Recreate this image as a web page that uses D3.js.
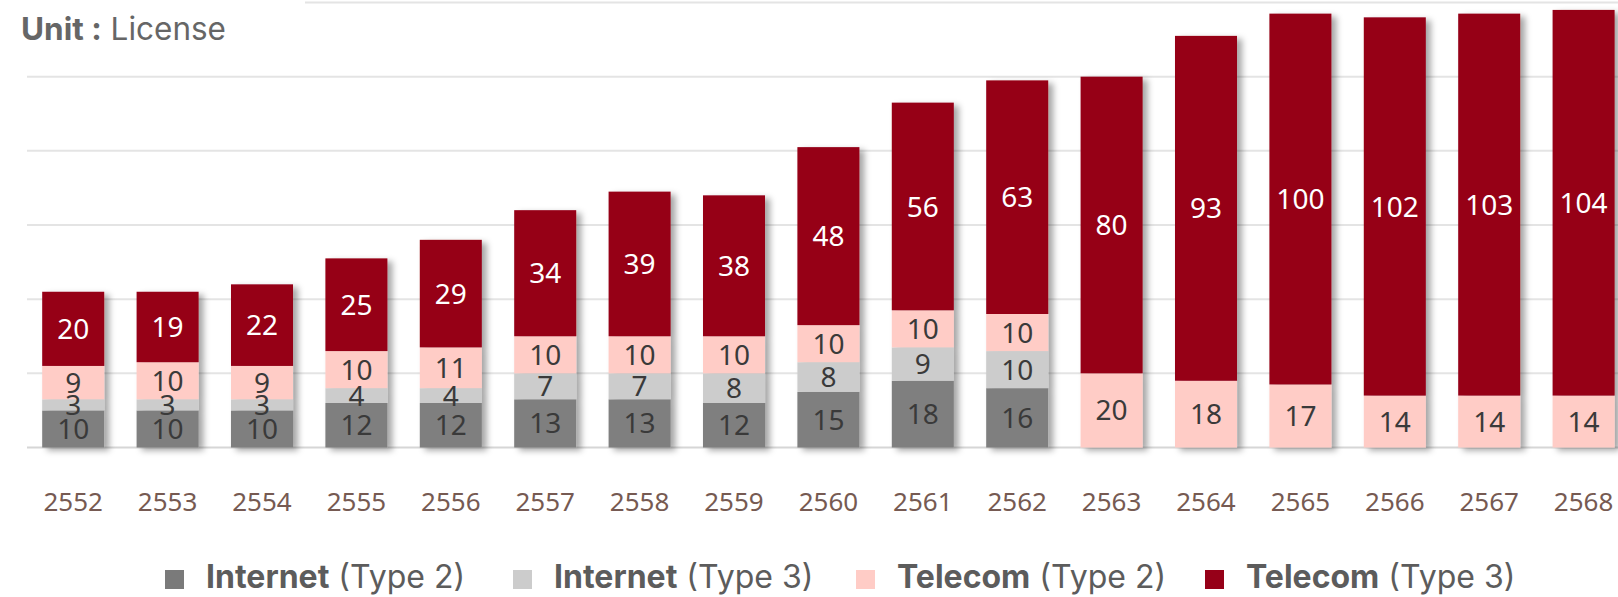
<!DOCTYPE html>
<html>
<head>
<meta charset="utf-8">
<script src="https://cdn.jsdelivr.net/npm/d3@7"></script>
<style>
  html, body { margin: 0; padding: 0; background: #fff; }
  svg { display: block; }
</style>
</head>
<body>
<div id="chart"></div>
<script>
// Chart data
let years = ['2552', '2553', '2554', '2555', '2556', '2557', '2558', '2559', '2560',
             '2561', '2562', '2563', '2564', '2565', '2566', '2567', '2568'];
let internetType2 = [10, 10, 10, 12, 12, 13, 13, 12, 15, 18, 16, 0, 0, 0, 0, 0, 0];
let internetType3 = [3, 3, 3, 4, 4, 7, 7, 8, 8, 9, 10, 0, 0, 0, 0, 0, 0];
let telecomType2 = [9, 10, 9, 10, 11, 10, 10, 10, 10, 10, 10, 20, 18, 17, 14, 14, 14];
let telecomType3 = [20, 19, 22, 25, 29, 34, 39, 38, 48, 56, 63, 80, 93, 100, 102, 103, 104];
let gridTicks = [0, 20, 40, 60, 80, 100, 120];

let seriesKeys = ['it2', 'it3', 'tc2', 'tc3'];
let seriesNames = [['Internet', '(Type 2)'], ['Internet', '(Type 3)'],
                   ['Telecom', '(Type 2)'], ['Telecom', '(Type 3)']];
let seriesColor = ['#7f7f7f', '#cccccc', '#ffccc6', '#960018'];
let labelColor = ['#3a3a3a', '#3a3a3a', '#3a3a3a', '#ffffff'];

let width = 1618;
let height = 597;

// Build table for d3.stack
let table = years.map(function(y, i) {
    return { year: y, it2: internetType2[i], it3: internetType3[i], tc2: telecomType2[i], tc3: telecomType3[i] };
});

let svg = d3.select('#chart')
    .append('svg')
    .attr('width', width)
    .attr('height', height);

// Bar drop shadow
let defs = svg.append('defs');
let shadow = defs.append('filter')
    .attr('id', 'bar-shadow')
    .attr('x', '-20%').attr('y', '-10%')
    .attr('width', '150%').attr('height', '130%');
shadow.append('feDropShadow')
    .attr('dx', 5).attr('dy', 3)
    .attr('stdDeviation', 3)
    .attr('flood-color', '#000')
    .attr('flood-opacity', 0.35);

// Scales
let step = 94.4;
let x = d3.scaleBand()
    .domain(years)
    .range([26, 26 + years.length * step])
    .paddingInner(0.343)
    .paddingOuter(0.1715);

let y = d3.scaleLinear()
    .domain([0, 120])
    .range([447.5, 2.5]);

// Gridlines
svg.append('g')
    .attr('class', 'grid')
    .selectAll('line')
    .data(gridTicks)
    .enter()
    .append('line')
    .attr('x1', 27)
    .attr('x2', width)
    .attr('y1', function(d) { return y(d); })
    .attr('y2', function(d) { return y(d); })
    .style('stroke', function(d) { return d === 0 ? '#d6d6d6' : '#e4e4e4'; })
    .style('stroke-width', 2);

// Stack
let stacked = d3.stack().keys(seriesKeys)(table);

let barGroups = svg.append('g')
    .attr('class', 'bars')
    .selectAll('g')
    .data(years)
    .enter()
    .append('g')
    .attr('filter', 'url(#bar-shadow)');

barGroups.each(function(year, i) {
    let g = d3.select(this);
    stacked.forEach(function(s, k) {
        let seg = s[i];
        if (seg[1] - seg[0] <= 0) return;
        g.append('rect')
            .attr('x', x(year))
            .attr('y', y(seg[1]))
            .attr('width', x.bandwidth())
            .attr('height', y(seg[0]) - y(seg[1]))
            .style('fill', seriesColor[k]);
    });
});

// Segment labels (small segments overlap, as in the source chart)
let labelLayer = svg.append('g').attr('class', 'labels');
stacked.forEach(function(s, k) {
    s.forEach(function(seg, i) {
        let v = seg[1] - seg[0];
        if (v <= 0) return;
        labelLayer.append('text')
            .attr('x', x(years[i]) + x.bandwidth() / 2)
            .attr('y', (y(seg[0]) + y(seg[1])) / 2)
            .attr('dy', '0.36em')
            .attr('text-anchor', 'middle')
            .attr('font-family', '"Noto Sans", "Open Sans", sans-serif')
            .attr('font-size', '28px')
            .attr('fill', labelColor[k])
            .text(v);
    });
});

// X axis labels
let xAxis = svg.append('g')
    .attr('class', 'x-axis')
    .attr('transform', 'translate(0,' + 447.5 + ')')
    .call(d3.axisBottom(x).tickSize(0).tickPadding(0));
xAxis.select('.domain').remove();
xAxis.selectAll('text')
    .attr('y', 54)
    .attr('dy', '0.36em')
    .attr('font-family', '"Noto Sans", "Open Sans", sans-serif')
    .attr('font-size', '26px')
    .attr('fill', '#765a52');

// Unit label, with white box hiding the top gridline
svg.append('rect')
    .attr('x', 0).attr('y', 0)
    .attr('width', 305).attr('height', 60)
    .style('fill', '#fff');

let unit = svg.append('text')
    .attr('x', 21)
    .attr('y', 40)
    .attr('font-family', 'Inter, Roboto, sans-serif')
    .attr('font-size', '31.5px')
    .attr('fill', '#666');
unit.append('tspan').attr('font-weight', 700).text('Unit :');
unit.append('tspan').text(' License');

// Legend
let legendX = [165, 513, 856, 1205];
let legend = svg.append('g').attr('class', 'legend');
seriesKeys.forEach(function(key, k) {
    let item = legend.append('g')
        .attr('transform', 'translate(' + legendX[k] + ',0)');
    item.append('rect')
        .attr('x', 0).attr('y', 570)
        .attr('width', 19).attr('height', 19)
        .style('fill', k === 0 ? '#7a7a7a' : seriesColor[k]);
    let t = item.append('text')
        .attr('x', 41)
        .attr('y', 588)
        .attr('font-family', 'Inter, Roboto, sans-serif')
        .attr('font-size', '32px')
        .attr('fill', '#5c5c5c');
    t.append('tspan').attr('font-weight', 700).text(seriesNames[k][0]);
    t.append('tspan').text(' ' + seriesNames[k][1]);
});
</script>
</body>
</html>
